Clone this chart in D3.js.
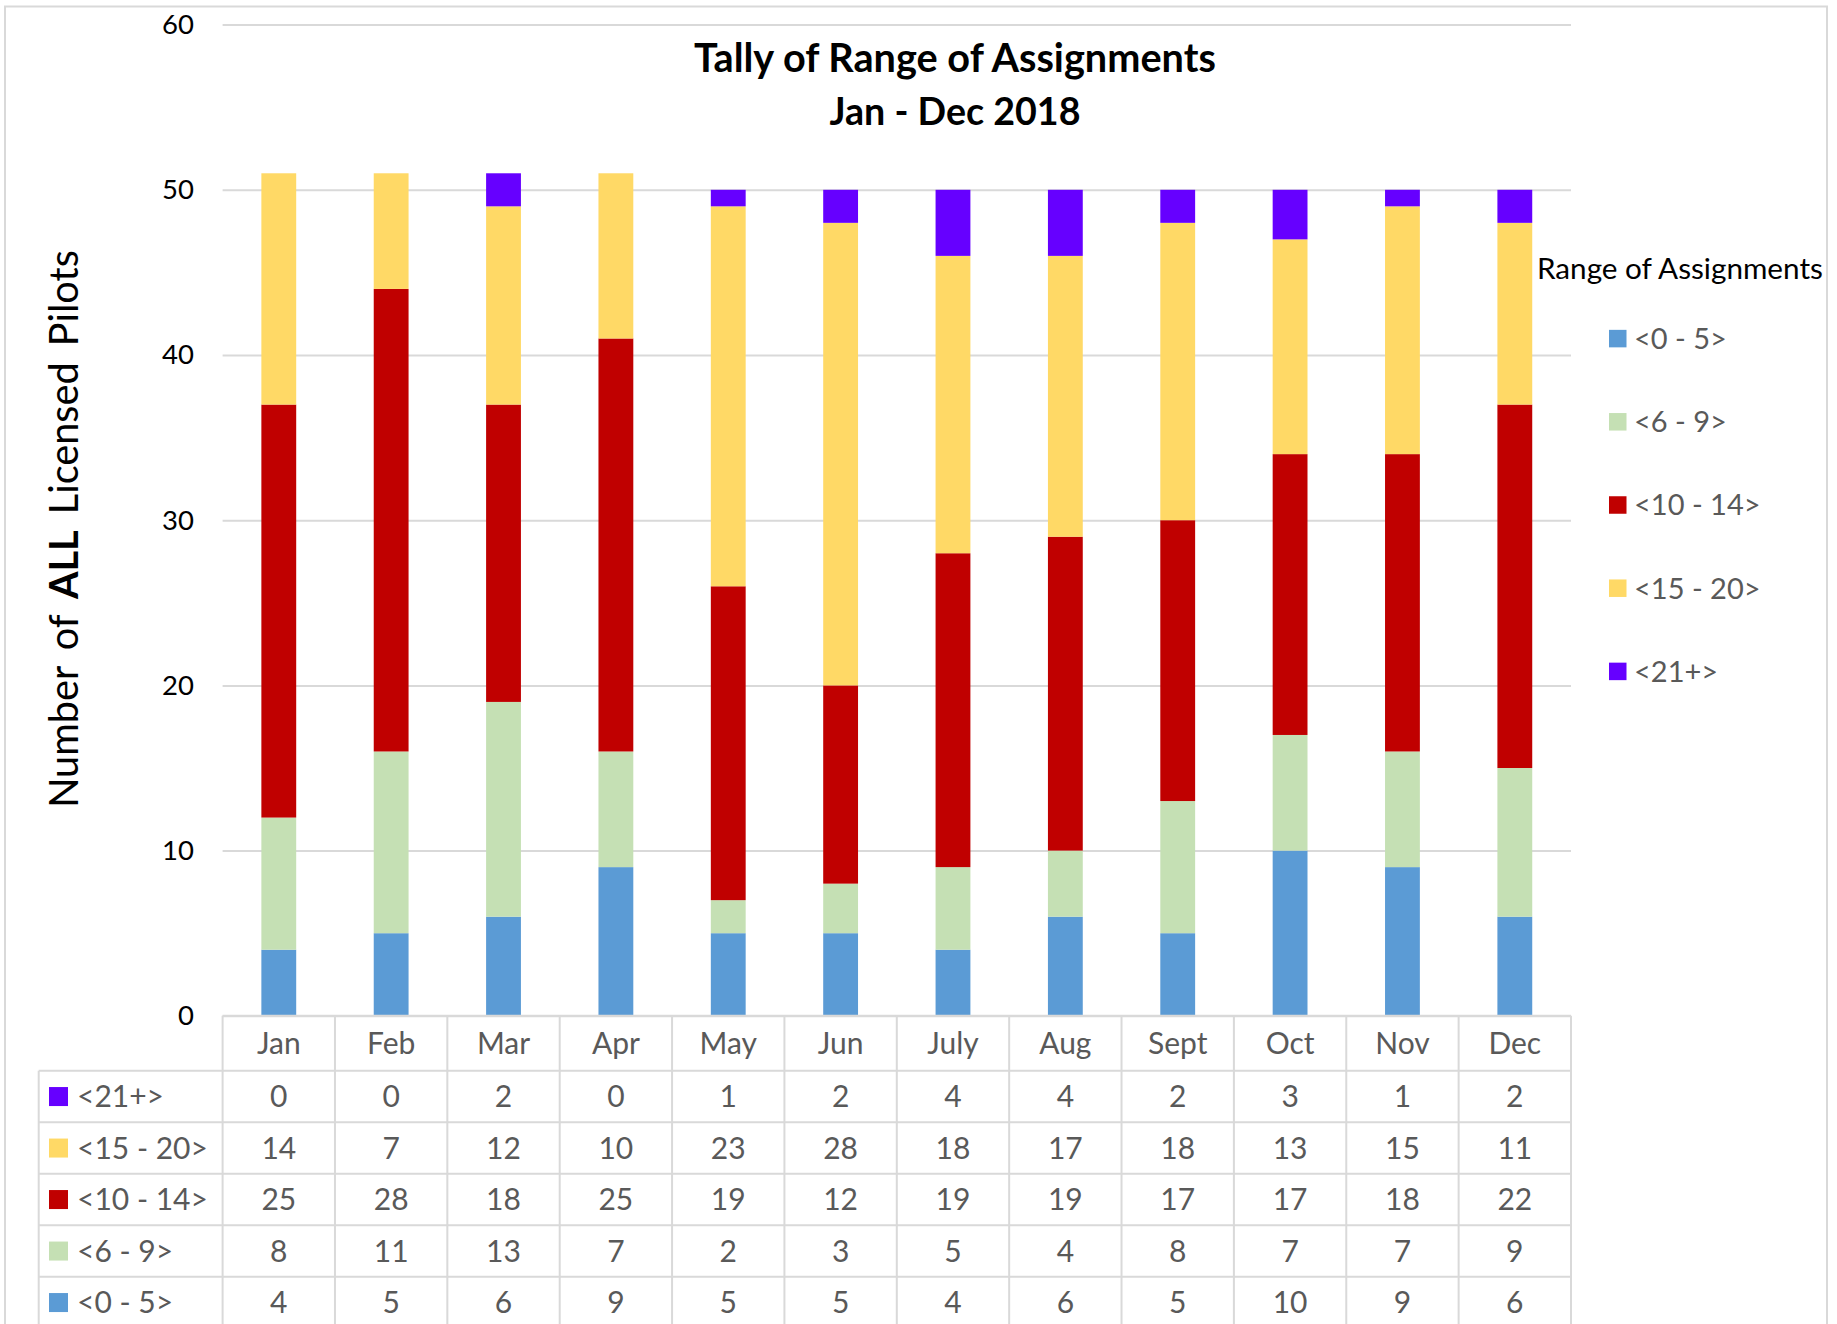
<!DOCTYPE html>
<html><head><meta charset="utf-8">
<script src="https://cdn.jsdelivr.net/npm/d3@7"></script>
<style>body{margin:0;background:#fff}</style>
</head><body><svg id="c" width="1837" height="1324"></svg>
<script>
// ---- data ----
const months = ["Jan","Feb","Mar","Apr","May","Jun","July","Aug","Sept","Oct","Nov","Dec"];
const seriesNames = ["<0 - 5>","<6 - 9>","<10 - 14>","<15 - 20>","<21+>"];
const r0_5   = [4,5,6,9,5,5,4,6,5,10,9,6];
const r6_9   = [8,11,13,7,2,3,5,4,8,7,7,9];
const r10_14 = [25,28,18,25,19,12,19,19,17,17,18,22];
const r15_20 = [14,7,12,10,23,28,18,17,18,13,15,11];
const r21p   = [0,0,2,0,1,2,4,4,2,3,1,2];
const yTicks = [0,10,20,30,40,50,60];
const seriesColors = ["#5B9BD5","#C5E0B4","#C00000","#FFD966","#6600FF"];
const titleLines = ["Tally of Range of Assignments","Jan - Dec 2018"];
const legendTitle = "Range of Assignments";

// ---- layout ----
const FONT = "Lato, 'Open Sans', sans-serif";
const GRAY = "#595959", LINE = "#D9D9D9";
const plotL = 222.6, plotR = 1571, yTop = 24.6, yBot = 1015.8;
const rowTop0 = 1070.8, rowH = 51.5;
const svg = d3.select("#c");

function fit(sel, w){
  const l = sel.node().getComputedTextLength();
  const fs = parseFloat(sel.attr("font-size"));
  sel.attr("font-size", fs*w/l);
}

// outer border
svg.append("rect").attr("x",5).attr("y",6.5).attr("width",1822).attr("height",1400)
  .attr("fill","#fff").attr("stroke",LINE).attr("stroke-width",2);

const x = d3.scaleBand().domain(months).range([plotL, plotR]).padding(0);
const y = d3.scaleLinear().domain([0,60]).range([yBot, yTop]);
const barW = x.bandwidth()*0.31;

// gridlines
const grid = svg.append("g").attr("transform",`translate(${plotL},0)`)
  .call(d3.axisLeft(y).tickValues(yTicks).tickSize(-(plotR-plotL)).tickFormat(""));
grid.select(".domain").remove();
grid.selectAll("line").attr("stroke",LINE).attr("stroke-width",2);

// y tick labels
const yl = svg.append("g").attr("transform",`translate(${plotL},0)`)
  .call(d3.axisLeft(y).tickValues(yTicks).tickSize(0).tickPadding(plotL-194));
yl.select(".domain").remove();
yl.selectAll("text").attr("font-family",FONT).attr("font-size",27.5).attr("fill","#000");

// bars
const rows = months.map((m,i)=>({month:m,
  "<0 - 5>":r0_5[i],"<6 - 9>":r6_9[i],"<10 - 14>":r10_14[i],"<15 - 20>":r15_20[i],"<21+>":r21p[i]}));
const stacked = d3.stack().keys(seriesNames)(rows);
const color = d3.scaleOrdinal().domain(seriesNames).range(seriesColors);
svg.append("g").selectAll("g").data(stacked).join("g").attr("fill",d=>color(d.key))
  .selectAll("rect").data(d=>d).join("rect")
  .attr("x",d=>x(d.data.month)+(x.bandwidth()-barW)/2)
  .attr("width",barW)
  .attr("y",d=>y(d[1]))
  .attr("height",d=>y(d[0])-y(d[1]));

// title
titleLines.forEach((t,i)=>{
  const tt = svg.append("text").attr("x",955).attr("y",[71.5,124.5][i]).attr("text-anchor","middle")
    .attr("font-family",FONT).attr("font-weight","bold").attr("font-size",34).attr("fill","#000").text(t);
  fit(tt,[522,251][i]);
});

// y axis title
const yt = svg.append("text").attr("transform","translate(78,529) rotate(-90)")
  .attr("text-anchor","middle").attr("font-family",FONT).attr("font-size",38).attr("fill","#000")
  .attr("word-spacing",6);
yt.append("tspan").text("Number of ");
yt.append("tspan").attr("font-weight","bold").text("ALL");
yt.append("tspan").text(" Licensed Pilots");
fit(yt,559);

// legend
const lt = svg.append("text").attr("x",1537).attr("y",279).attr("font-family",FONT)
  .attr("font-size",28).attr("fill","#000").text(legendTitle);
fit(lt,286);
const legY = [338.6,421.8,505,588.2,671.4];
seriesNames.forEach((s,i)=>{
  svg.append("rect").attr("x",1609).attr("y",legY[i]-8.75).attr("width",17.5).attr("height",17.5).attr("fill",color(s));
  svg.append("text").attr("x",1634).attr("y",legY[i]).attr("dy","0.36em").attr("font-family",FONT)
    .attr("font-size",29).attr("fill",GRAY).text(s);
});

// data table
const tableRows = [
  {name:"<21+>", vals:r21p},
  {name:"<15 - 20>", vals:r15_20},
  {name:"<10 - 14>", vals:r10_14},
  {name:"<6 - 9>", vals:r6_9},
  {name:"<0 - 5>", vals:r0_5}
];
const TS = 30;
const tb = svg.append("g");
// horizontal lines
tb.append("line").attr("x1",plotL).attr("x2",plotR).attr("y1",yBot).attr("y2",yBot);
for(let k=0;k<=tableRows.length;k++){
  const yy = rowTop0 + k*rowH;
  tb.append("line").attr("x1",38.7).attr("x2",plotR).attr("y1",yy).attr("y2",yy);
}
// vertical lines
tb.append("line").attr("x1",38.7).attr("x2",38.7).attr("y1",rowTop0).attr("y2",1340);
x.domain().concat([null]).forEach((m,i)=>{
  const xx = m===null ? plotR : x(m);
  tb.append("line").attr("x1",xx).attr("x2",xx).attr("y1",yBot).attr("y2",1340);
});
tb.selectAll("line").attr("stroke",LINE).attr("stroke-width",2);
// header labels
months.forEach(m=>{
  tb.append("text").attr("x",x(m)+x.bandwidth()/2).attr("y",(yBot+rowTop0)/2).attr("dy","0.36em")
    .attr("text-anchor","middle").attr("font-family",FONT).attr("font-size",TS).attr("fill",GRAY).text(m);
});
tableRows.forEach((r,k)=>{
  const cy = rowTop0 + k*rowH + rowH/2;
  tb.append("rect").attr("x",49).attr("y",cy-9.5).attr("width",19).attr("height",19).attr("fill",color(r.name));
  tb.append("text").attr("x",77).attr("y",cy).attr("dy","0.36em").attr("font-family",FONT)
    .attr("font-size",TS).attr("fill",GRAY).text(r.name);
  r.vals.forEach((v,i)=>{
    tb.append("text").attr("x",x(months[i])+x.bandwidth()/2).attr("y",cy).attr("dy","0.36em")
      .attr("text-anchor","middle").attr("font-family",FONT).attr("font-size",TS).attr("fill",GRAY).text(v);
  });
});
</script></body></html>
